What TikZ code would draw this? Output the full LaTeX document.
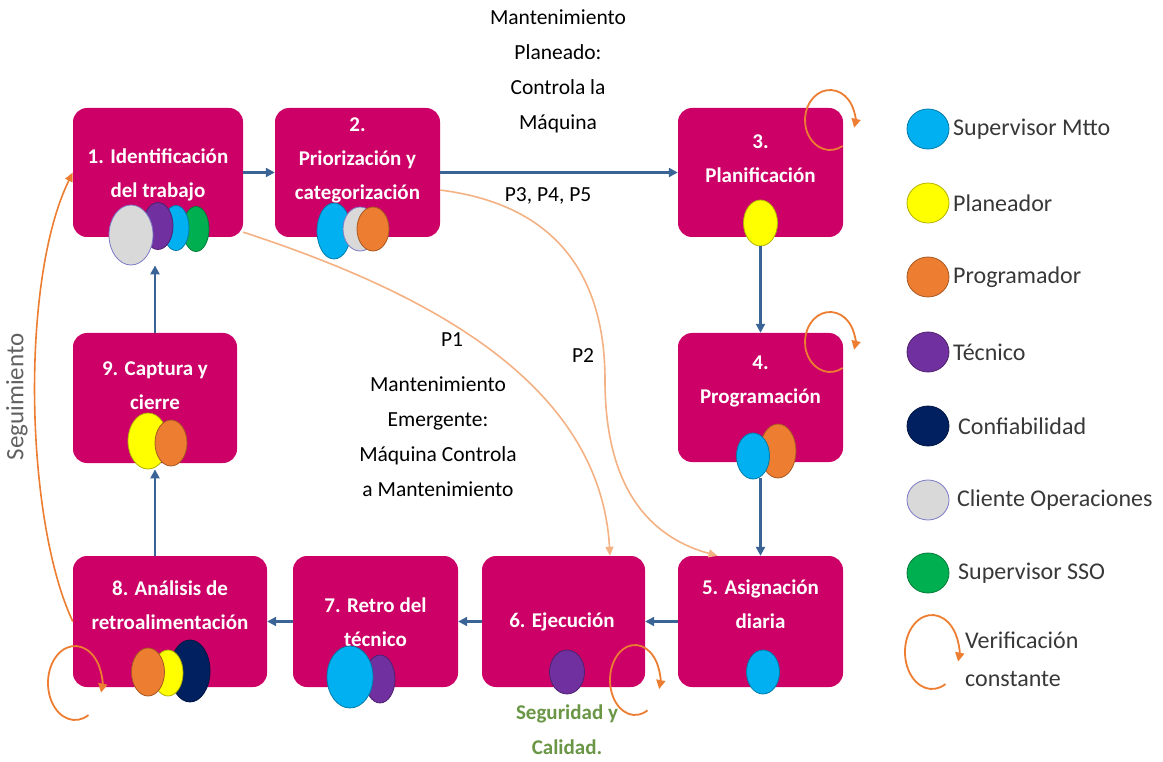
\documentclass[tikz,border=0pt]{standalone}
\usepackage{fontspec}
\setmainfont{Carlito}
\usetikzlibrary{arrows.meta,shapes.geometric,calc}

\definecolor{boxmag}{RGB}{204,0,102}
\definecolor{flowblue}{RGB}{58,100,150}
\definecolor{loopor}{RGB}{237,125,49}
\definecolor{pathor}{RGB}{244,177,131}
\definecolor{csup}{RGB}{0,176,240}
\definecolor{cplan}{RGB}{255,255,0}
\definecolor{cprog}{RGB}{237,125,49}
\definecolor{ctec}{RGB}{112,48,160}
\definecolor{cconf}{RGB}{0,32,96}
\definecolor{ccli}{RGB}{217,217,217}
\definecolor{csso}{RGB}{0,176,80}
\definecolor{safegreen}{RGB}{106,150,70}
\definecolor{legtext}{RGB}{56,56,56}

\tikzset{
  stage/.style={fill=boxmag, draw=none, rounded corners=14pt, inner sep=0pt},
  stagetext/.style={text=white, align=center, inner sep=0pt,
    font=\fontsize{21}{34}\selectfont\bfseries},
  role/.style={ellipse, inner sep=0pt, fill=#1, draw=#1!70!black, line width=0.8pt},
  clientrole/.style={ellipse, inner sep=0pt, fill=ccli, draw=black!20!ccli!70!blue, line width=0.8pt},
  flow/.style={draw=flowblue, line width=2.2pt, -{Triangle[length=9pt,width=9pt]}},
  pathline/.style={draw=pathor, line width=1.6pt, -{Triangle[length=9pt,width=8pt]}},
  follow/.style={draw=loopor, line width=1.6pt, -{Triangle[length=9pt,width=8pt]}},
  loopst/.style={draw=loopor, line width=1.8pt, -{Triangle[length=9pt,width=9pt]}},
  midtxt/.style={align=center, inner sep=0pt, text=black,
    font=\fontsize{21.5}{35}\selectfont},
  legtxt/.style={anchor=west, inner sep=0pt, text=legtext,
    font=\fontsize{24}{38}\selectfont},
}

\begin{document}
\begin{tikzpicture}[x=1pt,y=-1pt]
\useasboundingbox (0,0) rectangle (1163,762);

% ---- process stages ----
\node[stage, minimum width=170pt, minimum height=129pt] (b1) at (158,172.5) {};
\node[stage, minimum width=165pt, minimum height=129pt] (b2) at (357.5,172.5) {};
\node[stage, minimum width=165pt, minimum height=129pt] (b3) at (760.5,172.5) {};
\node[stage, minimum width=165pt, minimum height=129pt] (b4) at (760.5,397.5) {};
\node[stage, minimum width=165pt, minimum height=131pt] (b5) at (760.5,621.5) {};
\node[stage, minimum width=163pt, minimum height=131pt] (b6) at (563.5,621.5) {};
\node[stage, minimum width=165pt, minimum height=131pt] (b7) at (375.5,621.5) {};
\node[stage, minimum width=194pt, minimum height=131pt] (b8) at (170,621.5) {};
\node[stage, minimum width=164pt, minimum height=130pt] (b9) at (155,398) {};

\node[stagetext] (t1) at (158,175) {1. Identificación\\del trabajo};
\node[stagetext] (t2) at (357.5,160) {2.\\Priorización y\\categorización};
\node[stagetext] (t3) at (760.5,158.5) {3.\\Planificación};
\node[stagetext] (t4) at (760.5,381.5) {4.\\Programación};
\node[stagetext] (t5) at (760.5,604.5) {5. Asignación\\diaria};
\node[stagetext] (t6) at (562,622) {6. Ejecución};
\node[stagetext] (t7) at (375.5,622.5) {7. Retro del\\técnico};
\node[stagetext] (t8) at (170,605) {8. Análisis de\\retroalimentación};
\node[stagetext] (t9) at (155,386) {9. Captura y\\cierre};

% ---- roles taking part in each stage ----
\node[role=csso, minimum width=26pt, minimum height=45pt] (s1) at (196,229) {};
\node[role=csup, minimum width=26pt, minimum height=45pt] (a1) at (176,228) {};
\node[role=ctec, minimum width=30pt, minimum height=47pt] (k1) at (158,226) {};
\node[clientrole, minimum width=44pt, minimum height=60pt] (g1) at (131,235) {};

\node[role=csup, minimum width=34pt, minimum height=56pt] (a2) at (334,231) {};
\node[clientrole, minimum width=34pt, minimum height=44pt] (g2) at (360,229) {};
\node[role=cprog, minimum width=32pt, minimum height=44pt] (o2) at (373,229) {};

\node[role=cplan, minimum width=34pt, minimum height=46pt] (y3) at (760.5,223) {};

\node[role=cprog, minimum width=36pt, minimum height=54pt] (o4) at (778,451) {};
\node[role=csup, minimum width=33pt, minimum height=46pt] (a4) at (753,456) {};

\node[role=csup, minimum width=33pt, minimum height=44pt] (a5) at (763,672) {};

\node[role=ctec, minimum width=35pt, minimum height=44pt] (k6) at (567,672) {};

\node[role=ctec, minimum width=30pt, minimum height=48pt] (k7) at (380,679) {};
\node[role=csup, minimum width=46pt, minimum height=62pt] (a7) at (350,677) {};

\node[role=cconf, minimum width=40pt, minimum height=62pt] (n8) at (190,671) {};
\node[role=cplan, minimum width=30pt, minimum height=46pt] (y8) at (168,673) {};
\node[role=cprog, minimum width=33pt, minimum height=48pt] (o8) at (148,672) {};

\node[role=cplan, minimum width=40pt, minimum height=56pt] (y9) at (148,441) {};
\node[role=cprog, minimum width=32pt, minimum height=46pt] (o9) at (171,443) {};

% ---- main flow ----
\draw[flow] (b1.east) -- (b2.west);
\draw[flow] (b2.east) -- (b3.west);
\draw[flow] (y3.south) -- (b4.north);
\draw[flow] (b4.south |- o4.south) -- (b5.north);
\draw[flow] (b5.west) -- (b6.east);
\draw[flow] (b6.west) -- (b7.east);
\draw[flow] (b7.west) -- (b8.east);
\draw[flow] (b8.north -| b9.south) -- (y9.south -| b9.south);
\draw[flow] (b9.north) -- (b9.north |- g1.south);

% ---- priority routes ----
\draw[pathline] (b1.-35) .. controls (420,290) and (600,380) .. ([xshift=46.5pt]b6.north);
\draw[pathline] (b2.-12) .. controls (560,205) and (605,280) .. (605,380)
  .. controls (605,500) and (660,540) .. ([xshift=-43pt]b5.north);

% ---- follow-up ----
\draw[follow] (b8.west) .. controls (25,520) and (20,280) .. (b1.west);
\node[rotate=90, inner sep=0pt, text=black!62, font=\fontsize{25}{28}\selectfont] (sg) at (17,397) {Seguimiento};

% ---- constant verification loops ----
\coordinate (v3) at (830,120);
\coordinate (v4) at (830,342);
\coordinate (v6) at (635,680);
\coordinate (v8) at (75,683);
\draw[loopst] (v3) ++(60:25 and 30) arc[start angle=60, end angle=375, x radius=25, y radius=30];
\draw[loopst] (v4) ++(60:25 and 30) arc[start angle=60, end angle=375, x radius=25, y radius=30];
\draw[loopst] (v6) ++(60:25 and 35) arc[start angle=60, end angle=375, x radius=25, y radius=35];
\draw[loopst] (v8) ++(60:27 and 37) arc[start angle=60, end angle=375, x radius=27, y radius=37];

% ---- annotations ----
\node[midtxt] (mp) at (558,71) {Mantenimiento\\Planeado:\\Controla la\\Máquina};
\node[midtxt] (p345) at (548,196) {P3, P4, P5};
\node[midtxt] (p1) at (452,340) {P1};
\node[midtxt] (p2) at (583,356) {P2};
\node[midtxt] (me) at (438,437) {Mantenimiento\\Emergente:\\Máquina Controla\\a Mantenimiento};
\node[align=center, inner sep=0pt, text=safegreen, font=\fontsize{21}{35}\selectfont\bfseries] (sq) at (567,730) {Seguridad y\\Calidad.};

% ---- legend ----
\node[role=csup, minimum width=42pt, minimum height=40pt] (l1) at (928,129) {};
\node[role=cplan, minimum width=42pt, minimum height=40pt] (l2) at (928,203) {};
\node[role=cprog, minimum width=42pt, minimum height=40pt] (l3) at (928,277) {};
\node[role=ctec, minimum width=42pt, minimum height=40pt] (l4) at (928,352) {};
\node[role=cconf, minimum width=42pt, minimum height=40pt] (l5) at (928,426) {};
\node[clientrole, minimum width=42pt, minimum height=40pt] (l6) at (928,500) {};
\node[role=csso, minimum width=42pt, minimum height=40pt] (l7) at (928,573) {};
\coordinate (l8) at (932,652);
\draw[loopst] (l8) ++(60:27 and 37) arc[start angle=60, end angle=375, x radius=27, y radius=37];

\node[legtxt] (lt1) at (953,129) {Supervisor Mtto};
\node[legtxt] (lt2) at (953,203) {Planeador};
\node[legtxt] (lt3) at (953,277) {Programador};
\node[legtxt] (lt4) at (953,352) {Técnico};
\node[legtxt] (lt5) at (958,426) {Confiabilidad};
\node[legtxt] (lt6) at (957,500) {Cliente Operaciones};
\node[legtxt] (lt7) at (958,573) {Supervisor SSO};
\node[legtxt, align=left, font=\fontsize{24}{38}\selectfont] (lt8) at (965,659) {Verificación\\constante};
\end{tikzpicture}
\end{document}
